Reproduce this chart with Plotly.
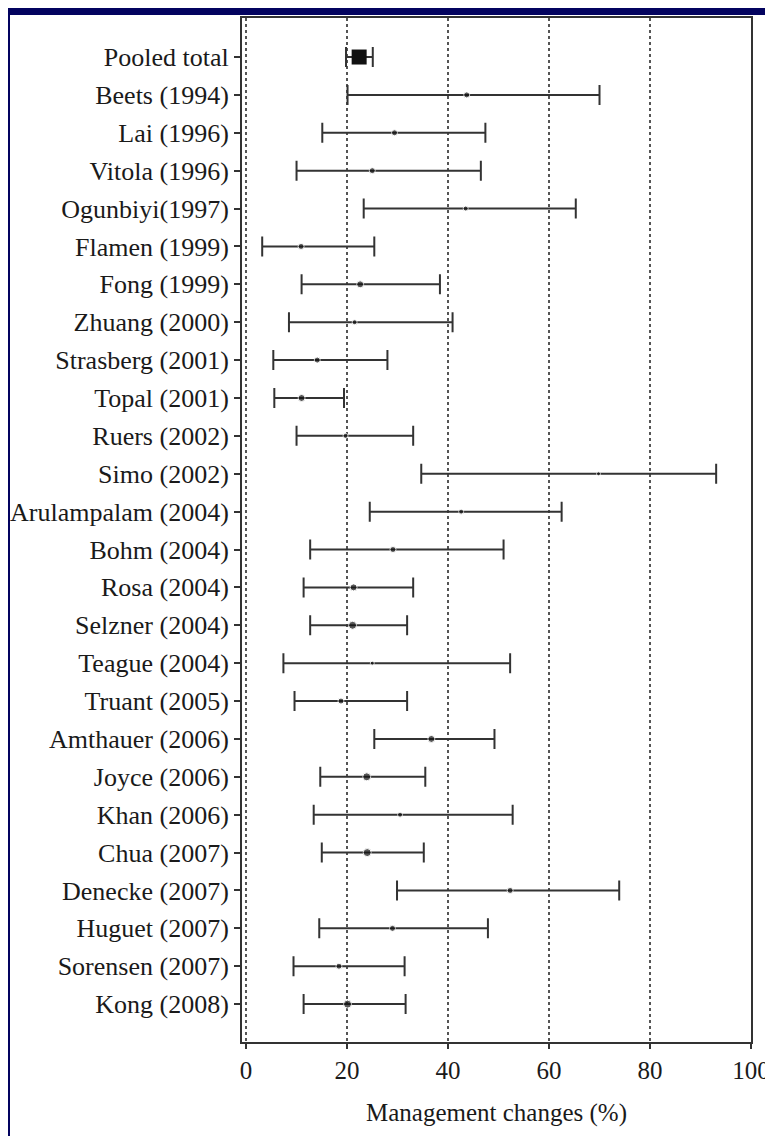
import plotly.graph_objects as go

studies = ["Pooled total", "Beets (1994)", "Lai (1996)", "Vitola (1996)", "Ogunbiyi(1997)",
           "Flamen (1999)", "Fong (1999)", "Zhuang (2000)", "Strasberg (2001)", "Topal (2001)",
           "Ruers (2002)", "Simo (2002)", "Arulampalam (2004)", "Bohm (2004)", "Rosa (2004)",
           "Selzner (2004)", "Teague (2004)", "Truant (2005)", "Amthauer (2006)", "Joyce (2006)",
           "Khan (2006)", "Chua (2007)", "Denecke (2007)", "Huguet (2007)", "Sorensen (2007)",
           "Kong (2008)"]
estimate = [22.4, 43.7, 29.4, 25.0, 43.5, 10.9, 22.6, 21.5, 14.1, 11.0, 19.7, 69.8, 42.6,
            29.1, 21.3, 21.1, 25.0, 18.8, 36.7, 23.9, 30.5, 24.0, 52.3, 29.0, 18.4, 20.1]
ci_low = [19.8, 20.1, 15.1, 10.0, 23.3, 3.2, 11.0, 8.5, 5.4, 5.6, 10.0, 34.7, 24.5,
          12.7, 11.4, 12.7, 7.4, 9.6, 25.4, 14.7, 13.4, 15.0, 29.9, 14.5, 9.4, 11.4]
ci_high = [25.1, 70.0, 47.4, 46.5, 65.3, 25.4, 38.4, 40.9, 28.0, 19.4, 33.1, 93.1, 62.5,
           51.0, 33.1, 31.9, 52.3, 31.9, 49.2, 35.5, 52.8, 35.2, 73.9, 47.9, 31.4, 31.6]
x_ticks = [0, 20, 40, 60, 80, 100]
x_title = "Management changes (%)"

# style
study_marker_sizes = [6, 6, 6, 5, 6, 7, 5, 6, 7, 5, 4, 5, 6, 7, 8, 4, 6, 7, 8, 5, 8, 6, 6, 6, 8]
NAVY = "#03035f"
LINE = "#333333"
FONT = "Liberation Serif, Times New Roman, serif"

# page body adds an 8px offset; compensate so the plot lands where the reference has it
OFF = 8
W, H = 773 - OFF, 1136 - OFF
ML, MT = 242 - OFF, 18 - OFF
MR = W - (751 - OFF)
MB = H - (1042 - OFF)
pw, ph = W - ML - MR, H - MT - MB

rows = list(range(len(studies)))
err_plus = [h - e for h, e in zip(ci_high, estimate)]
err_minus = [e - l for e, l in zip(estimate, ci_low)]

fig = go.Figure()
fig.add_trace(go.Scatter(
    x=estimate[1:], y=rows[1:], mode="markers",
    marker=dict(symbol="circle", size=study_marker_sizes, color="#111111"),
    error_x=dict(type="data", symmetric=False, array=err_plus[1:], arrayminus=err_minus[1:],
                 color=LINE, thickness=2, width=10),
    showlegend=False, hoverinfo="skip"))
fig.add_trace(go.Scatter(
    x=estimate[:1], y=rows[:1], mode="markers",
    marker=dict(symbol="square", size=15, color="#111111"),
    error_x=dict(type="data", symmetric=False, array=err_plus[:1], arrayminus=err_minus[:1],
                 color=LINE, thickness=2, width=10),
    showlegend=False, hoverinfo="skip"))

# navy border strips (left & top), panel starts at screen x=10, y=15
left_edge = ((10 - OFF) - ML) / pw
top_edge = 1 + (MT - (15 - OFF)) / ph
fig.add_shape(type="rect", xref="paper", yref="paper", x0=-1, x1=left_edge, y0=-1, y1=2,
              fillcolor=NAVY, line_width=0, layer="below")
fig.add_shape(type="rect", xref="paper", yref="paper", x0=-1, x1=2, y0=top_edge, y1=2,
              fillcolor=NAVY, line_width=0, layer="below")

fig.update_layout(
    template="none",
    width=W, height=H,
    margin=dict(l=ML, r=MR, t=MT, b=MB, pad=0),
    paper_bgcolor="white", plot_bgcolor="rgba(0,0,0,0)",
    font=dict(family=FONT, size=25, color="#1a1a1a"),
    xaxis=dict(
        range=[-0.8, 100], tickvals=x_ticks, ticktext=[str(v) for v in x_ticks],
        showgrid=True, gridcolor="#555555", griddash="dot", gridwidth=1.5,
        zeroline=False, showline=True, linecolor=LINE, linewidth=2, mirror=True,
        ticks="outside", ticklen=5, tickwidth=2, tickcolor=LINE,
        tickfont=dict(size=25), automargin=False,
        title=dict(text=x_title, font=dict(size=25), standoff=20),
    ),
    yaxis=dict(
        range=[26.0, -1.03], tickvals=rows, ticktext=studies,
        showgrid=False, zeroline=False, showline=True, linecolor=LINE, linewidth=2,
        mirror=True, ticks="outside", ticklen=6, tickwidth=2, tickcolor=LINE,
        tickfont=dict(size=26), automargin=False,
    ),
)

fig.write_html("out.html")
